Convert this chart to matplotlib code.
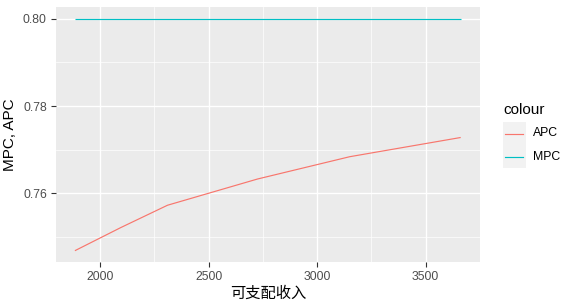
import matplotlib
matplotlib.use("Agg")
import matplotlib.pyplot as plt
from matplotlib.lines import Line2D
from matplotlib.patches import Rectangle
import numpy as np

# Data
income = [1883, 2095, 2310, 2725, 3150, 3662]
apc = [0.7469, 0.7522, 0.7573, 0.7633, 0.7684, 0.7728]
mpc = [0.80, 0.80, 0.80, 0.80, 0.80, 0.80]
series_names = ["APC", "MPC"]
series_colors = ["#F8766D", "#00BFC4"]
x_ticks = [2000, 2500, 3000, 3500]
x_minor = [2250, 2750, 3250]
y_ticks = [0.76, 0.78, 0.80]
y_minor = [0.75, 0.77, 0.79]

W, H = 574, 307
fig = plt.figure(figsize=(W / 100, H / 100), dpi=100)
fig.patch.set_facecolor("white")

left, right, top, bottom = 55.6, 480.0, 7.0, 262.3
ax = fig.add_axes([left / W, 1 - bottom / H, (right - left) / W, (bottom - top) / H])
ax.set_facecolor("#EBEBEB")
for s in ax.spines.values():
    s.set_visible(False)

ax.plot(income, apc, color=series_colors[0], lw=0.85, zorder=3, solid_capstyle="butt")
ax.plot(income, mpc, color=series_colors[1], lw=0.85, zorder=3, solid_capstyle="butt")

xmin, xmax = min(income), max(income)
allv = apc + mpc
ymin, ymax = min(allv), max(allv)
ax.set_xlim(xmin - 0.05 * (xmax - xmin), xmax + 0.05 * (xmax - xmin))
ax.set_ylim(ymin - 0.05 * (ymax - ymin), ymax + 0.05 * (ymax - ymin))

ax.set_xticks(x_ticks)
ax.set_xticks(x_minor, minor=True)
ax.set_yticks(y_ticks)
ax.set_yticks(y_minor, minor=True)
ax.set_yticklabels([f"{v:.2f}" for v in y_ticks])
ax.grid(True, which="major", color="white", lw=1.0, zorder=1)
ax.grid(True, which="minor", color="white", lw=0.5, zorder=1)
ax.set_axisbelow(True)
ax.tick_params(which="major", length=2.75 * 1.39, width=0.8, color="#333333",
               labelcolor="#4D4D4D", labelsize=8.8, pad=2.5)
ax.tick_params(which="minor", length=0)
for lab in ax.get_xticklabels() + ax.get_yticklabels():
    lab.set_family(["Liberation Sans", "DejaVu Sans"])

ax.set_xlabel("可支配收入", family=["Noto Sans CJK SC", "DejaVu Sans"], fontsize=11,
              color="black", labelpad=1)
ax.set_ylabel("MPC, APC", family=["Liberation Sans", "DejaVu Sans"], fontsize=11,
              color="black", labelpad=4)

# Legend (ggplot-style)
fig.text(503.3 / W, 1 - 110 / H, "colour", family=["Liberation Sans", "DejaVu Sans"],
         fontsize=11, color="black", ha="left", va="center")
key_x0, key_w, key_h, key_y0 = 502.7, 23.0, 23.0, 121.7
for i, (name, col) in enumerate(zip(series_names, series_colors)):
    y0 = key_y0 + i * key_h
    rect = Rectangle((key_x0 / W, 1 - (y0 + key_h) / H), key_w / W, key_h / H,
                     transform=fig.transFigure, facecolor="#F2F2F2", edgecolor="none",
                     zorder=1)
    fig.add_artist(rect)
    yc = round(y0 + key_h / 2) + 0.5
    ln = Line2D([(key_x0 + 2.3) / W, (key_x0 + key_w - 2.3) / W],
                [1 - yc / H, 1 - yc / H], transform=fig.transFigure,
                color=col, lw=0.85, zorder=2)
    fig.add_artist(ln)
    fig.text(532.7 / W, 1 - yc / H, name, family=["Liberation Sans", "DejaVu Sans"],
             fontsize=8.8, color="black", ha="left", va="center")

fig.savefig("out.png", dpi=100)
